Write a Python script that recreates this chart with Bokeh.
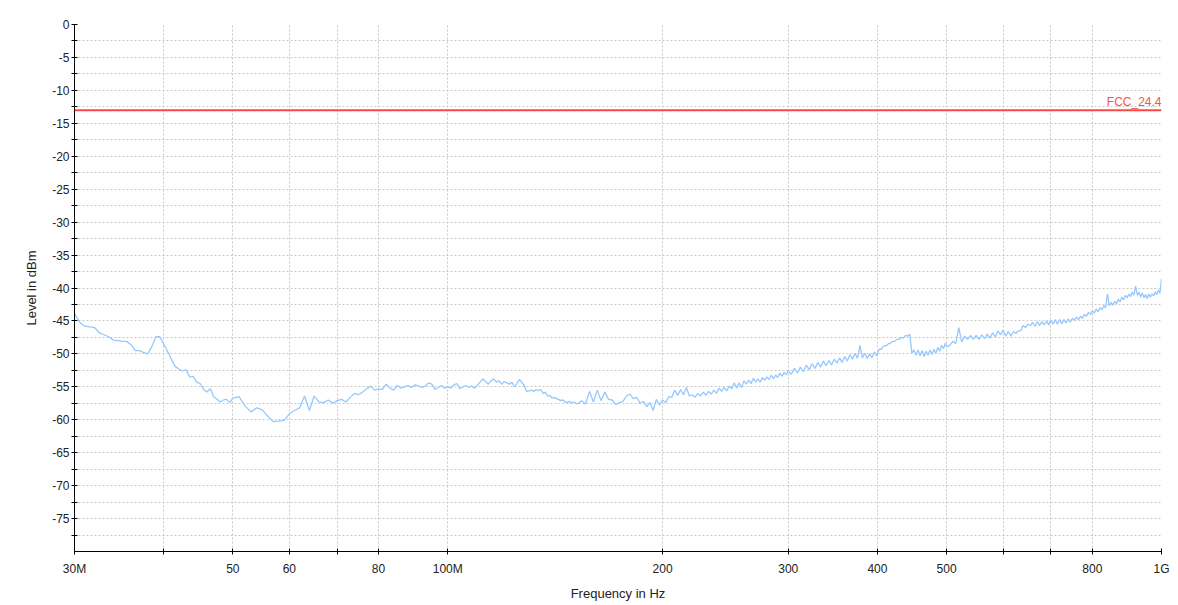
from bokeh.plotting import figure
from bokeh.models import Range1d, FixedTicker, Span, ColumnDataSource
from bokeh.embed import file_html
from bokeh.resources import INLINE
from bokeh.core.properties import value

# ---------------- data (frequency in MHz, level in dBm) ----------------
freq_a = [30, 30.5, 31, 31.5, 32, 32.5, 33, 33.5, 34, 34.5, 35, 35.5, 36, 36.5, 37, 37.5,
          38, 38.5, 39, 39.5, 40, 40.5, 41, 41.5, 42, 42.5, 43, 43.5, 44, 44.5, 45, 45.5,
          46, 46.5, 47, 47.5, 48, 48.5, 49, 49.5, 50]
level_a = [-43.9, -45.2, -45.8, -45.9, -46.0, -46.8, -47.1, -47.4, -47.9, -48.0, -48.1, -48.1,
           -48.6, -49.5, -49.5, -49.8, -50.0, -48.9, -47.4, -47.4, -48.5, -49.6, -50.8, -51.9,
           -52.3, -52.6, -52.4, -53.5, -53.4, -54.3, -54.5, -55.4, -55.8, -55.3, -56.5, -56.9,
           -57.3, -57.0, -56.9, -57.4, -56.7]

freq_b = [51, 52, 53, 54, 55, 56, 57, 58, 59, 60, 61, 62, 63, 64, 65, 66, 67, 68, 69, 70,
          71, 72, 73, 74, 75, 76, 77, 78, 79, 80, 81, 82, 83, 84, 85, 86, 87, 88, 89, 90,
          91, 92, 93, 94, 95, 96, 97, 98, 99, 100]
level_b = [-56.5, -57.9, -58.8, -58.2, -58.5, -59.5, -60.3, -60.2, -60.1, -59.1,
           -58.6, -58.2, -56.4, -58.6, -56.4, -57.3, -57.4, -57.0, -57.5, -57.1,
           -56.9, -57.3, -56.6, -56.0, -56.2, -55.8, -55.3, -54.9, -55.5, -55.3,
           -55.4, -54.6, -55.2, -55.5, -54.8, -55.2, -55.0, -54.8, -55.1, -54.7,
           -54.9, -55.1, -54.9, -54.4, -54.6, -55.4, -55.1, -54.8, -55.2, -55.0]

freq_c = [101, 102, 103, 104, 105, 106, 107, 108, 109, 110, 111, 112, 113, 114, 115, 116,
          117, 118, 119, 120, 121, 122, 123, 124, 125, 126, 127, 128, 129, 130, 131, 132,
          133, 134, 135, 136, 137, 138, 139, 140, 141, 142, 143, 144, 145, 146, 147, 148,
          149, 150]
level_c = [-55.2, -54.7, -54.5, -55.3, -55.0, -54.8, -55.1, -54.9, -55.2, -54.8,
           -54.3, -53.8, -54.2, -54.6, -54.1, -53.8, -54.3, -54.1, -54.6, -54.2,
           -54.4, -54.6, -54.3, -55.0, -54.5, -53.9, -54.3, -54.8, -55.7, -55.6,
           -55.5, -55.7, -55.4, -55.6, -55.4, -56.0, -55.8, -56.4, -56.3, -56.7,
           -56.6, -56.8, -56.9, -57.1, -57.0, -57.3, -57.4, -57.2, -57.5, -57.3]

freq_d = [152, 154, 156, 158, 160, 162, 164, 166, 168, 170, 172, 174, 176, 178, 180, 182,
          184, 186, 188, 190, 192, 194, 196, 198, 200, 202, 204, 206, 208, 210, 212, 214,
          216, 218, 220, 222, 224, 226, 228, 230, 232, 234, 236, 238, 240, 242, 244, 246,
          248, 250, 252, 254, 256, 258, 260, 262, 264, 266, 268, 270, 272, 274, 276, 278,
          280, 282, 284, 286, 288, 290, 292, 294, 296, 298, 300]
level_d = [-57.6, -57.1, -57.6, -55.7, -57.3, -55.5, -57.1, -55.8, -56.9, -57.0,
           -57.7, -57.4, -57.2, -56.4, -56.1, -56.8, -56.6, -57.5, -57.2, -58.0,
           -57.4, -58.6, -56.9, -57.8, -57.0, -57.4, -56.5, -56.6, -55.5, -56.3,
           -55.4, -56.2, -55.1, -56.4, -56.2, -56.6, -56.0, -56.4, -55.8, -56.3,
           -55.7, -56.1, -55.5, -56.0, -55.2, -55.7, -55.1, -55.6, -54.9, -55.3,
           -54.4, -55.2, -54.4, -55.1, -54.1, -54.6, -54.0, -54.5, -53.7, -54.3,
           -53.8, -54.3, -53.6, -54.0, -53.5, -53.9, -53.2, -53.8, -53.2, -53.6,
           -52.9, -53.4, -52.8, -53.2, -52.6]

freq_e = [303, 306, 309, 312, 315, 318, 321, 324, 327, 330, 333, 336, 339, 342, 345, 348,
          351, 354, 357, 360, 363, 366, 369, 372, 375, 378, 381, 384, 387, 390, 393, 396,
          399, 402, 405, 408, 411, 414, 417, 420, 423, 426, 429, 432, 435, 438, 441, 444,
          447, 450, 453, 456, 459, 462, 465, 468, 471, 474, 477, 480, 483, 486, 489, 492,
          495, 498, 500]
level_e = [-53.1, -52.2, -52.9, -52.0, -52.7, -51.7, -52.4, -51.5, -52.2, -51.3,
           -52.0, -51.1, -51.8, -51.0, -51.7, -50.8, -51.4, -50.6, -51.3, -50.4,
           -51.1, -50.1, -50.8, -49.9, -50.7, -48.7, -50.6, -49.9, -50.7, -50.0,
           -50.6, -49.7, -50.3, -49.3, -49.3, -48.8, -48.8, -48.5, -48.4, -48.1,
           -48.1, -47.8, -47.8, -47.5, -47.6, -47.2, -47.3, -47.0,
           -49.9, -49.4, -50.2, -49.4, -50.3, -49.5, -50.4, -49.6, -50.2, -49.4,
           -50.1, -49.3, -49.9, -49.0, -49.6, -48.7, -49.2, -48.4,
           -48.9]

freq_f = [505, 510, 515, 520, 525, 530, 535, 540, 545, 550, 555, 560, 565, 570, 575, 580,
          585, 590, 595, 600, 605, 610, 615, 620, 625, 630, 635, 640, 645, 650, 655, 660,
          665, 670, 675, 680, 685, 690, 695, 700, 705, 710, 715, 720, 725, 730, 735, 740,
          745, 750, 755, 760, 765, 770, 775, 780, 785, 790, 795, 800, 805, 810, 815, 820,
          825, 830, 835, 840, 845, 850, 855, 860, 865, 870, 875, 880, 885, 890, 895, 900,
          905, 910, 915, 920, 925, 930, 935, 940, 945, 950, 955, 960, 965, 970, 975, 980,
          985, 990, 995, 1000]
level_f = [-48.7, -48.1, -48.4, -46.0, -48.2, -47.3, -47.8, -47.2, -47.8, -47.2,
           -47.8, -47.1, -47.7, -47.0, -47.6, -46.8, -47.4, -46.5, -47.1, -46.4,
           -47.3, -46.6, -47.3, -46.6, -46.9, -46.5, -46.5, -45.7, -46.0, -45.5,
           -45.7, -45.2, -45.8, -45.1, -45.7, -45.1, -45.6, -45.0, -45.6, -44.9,
           -45.5, -44.8, -45.5, -44.8, -45.4, -44.8, -45.3, -44.7, -45.2, -44.6,
           -44.9, -44.4, -44.8, -44.3, -44.6, -44.0, -44.3, -43.7, -44.0, -43.5,
           -43.8, -43.2, -43.6, -43.0, -43.3, -42.7, -43.0, -40.9, -42.7, -42.2,
           -42.6, -42.0, -42.4, -41.7, -42.1, -41.4, -41.8, -41.1, -41.5, -40.9,
           -41.3, -40.6, -41.1, -39.7, -41.1, -40.6, -41.4, -40.7, -41.5, -41.0,
           -41.6, -40.9, -41.4, -40.9, -41.2, -40.6, -41.0, -40.3, -40.8, -38.6]

limit_dbm = -13
limit_name = "FCC_24.4"

x_ticks = [30, 40, 50, 60, 70, 80, 100, 200, 300, 400, 500, 600, 700, 800, 1000]
x_tick_labels = ["30M", "", "50", "60", "", "80", "100M", "200", "300", "400", "500", "", "", "800", "1G"]
y_ticks = [0, -5, -10, -15, -20, -25, -30, -35, -40, -45, -50, -55, -60, -65, -70, -75]
y_minor_ticks = [-2.5, -7.5, -12.5, -17.5, -22.5, -27.5, -32.5, -37.5, -42.5, -47.5,
                 -52.5, -57.5, -62.5, -67.5, -72.5, -77.5]

freq = freq_a + freq_b + freq_c + freq_d + freq_e + freq_f
level = level_a + level_b + level_c + level_d + level_e + level_f

FONT = "Liberation Sans"
GRID = "#c8c8c8"

p = figure(width=1170, height=603, x_axis_type="log",
           x_range=Range1d(30, 1000), y_range=Range1d(-80, 0),
           output_backend="svg", toolbar_location=None,
           min_border_left=74, min_border_right=9, min_border_top=24, min_border_bottom=48)
p.outline_line_color = None
p.background_fill_color = "white"
p.border_fill_color = "white"

src = ColumnDataSource(dict(f=freq, l=level))
p.line("f", "l", source=src, line_color="#96c8ff", line_width=1.3)

p.add_layout(Span(location=limit_dbm, dimension="width", line_color="#ff4646", line_width=2))
p.text(x=[x_ticks[-1]], y=[limit_dbm], text=[limit_name], text_align="right",
       text_baseline="bottom", y_offset=-1, text_color="#ff4d4d",
       text_font=value(FONT), text_font_size="12px")

# x axis
p.xaxis.ticker = FixedTicker(ticks=x_ticks, minor_ticks=[])
p.xaxis.major_label_overrides = {t: s for t, s in zip(x_ticks, x_tick_labels)}
p.xaxis.axis_label = "Frequency in Hz"

# y axis
p.yaxis.ticker = FixedTicker(ticks=y_ticks, minor_ticks=y_minor_ticks)
p.yaxis.major_label_overrides = {t: str(t) for t in y_ticks}
p.yaxis.axis_label = "Level in dBm"

for ax in (p.xaxis[0], p.yaxis[0]):
    ax.axis_line_color = "black"
    ax.axis_line_width = 1
    ax.major_tick_line_color = "black"
    ax.minor_tick_line_color = "black"
    ax.major_tick_in = 3
    ax.major_tick_out = 3
    ax.minor_tick_in = 3
    ax.minor_tick_out = 3
    ax.major_label_text_font = FONT
    ax.major_label_text_font_size = "12px"
    ax.major_label_text_color = "#222222"
    ax.axis_label_text_font = FONT
    ax.axis_label_text_font_size = "13px"
    ax.axis_label_text_font_style = "normal"
    ax.axis_label_text_color = "#222222"

p.yaxis.major_label_standoff = 2
p.yaxis.axis_label_standoff = 10
p.xaxis.major_label_standoff = 7
p.xaxis.axis_label_standoff = 7

p.xgrid.ticker = FixedTicker(ticks=x_ticks)
p.xgrid.grid_line_color = GRID
p.xgrid.grid_line_dash = "2 2"
p.ygrid.grid_line_color = GRID
p.ygrid.grid_line_dash = "2 2"
p.ygrid.minor_grid_line_color = GRID
p.ygrid.minor_grid_line_dash = "2 2"

open("out.html", "w").write(file_html(p, INLINE))
